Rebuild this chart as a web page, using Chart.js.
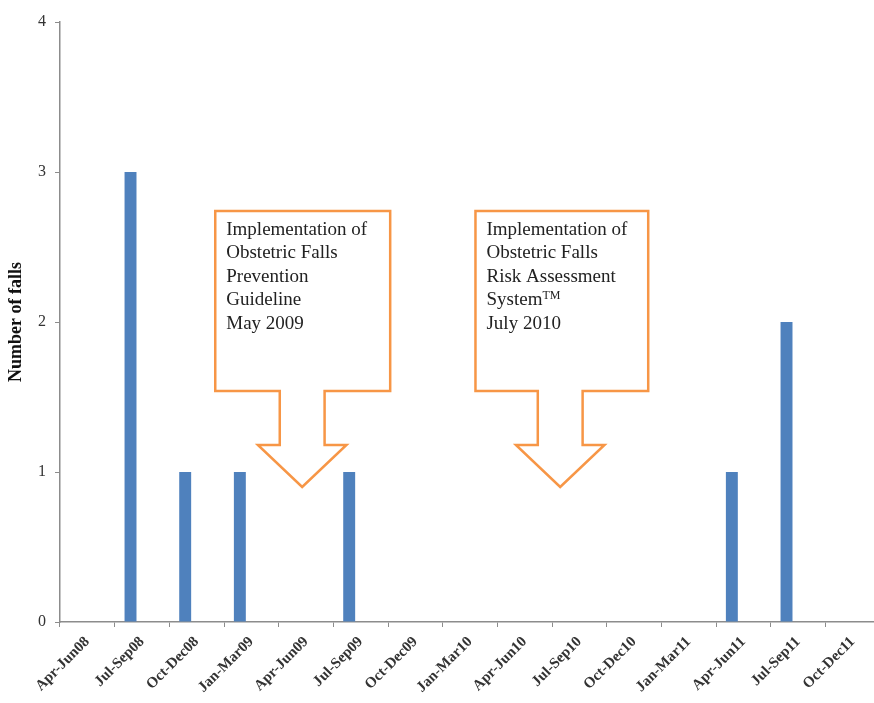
<!DOCTYPE html>
<html>
<head>
<meta charset="utf-8">
<script src="https://cdn.jsdelivr.net/npm/chart.js@4.4.1/dist/chart.umd.min.js"></script>
<style>
  html, body { margin: 0; padding: 0; background: #fff; overflow: hidden; }
  #wrap { width: 880px; height: 703px; }
</style>
</head>
<body>
<div id="wrap"><canvas id="grafica" width="880" height="703"></canvas></div>
<script>
const trimestres = ['Apr-Jun08', 'Jul-Sep08', 'Oct-Dec08', 'Jan-Mar09', 'Apr-Jun09', 'Jul-Sep09',
  'Oct-Dec09', 'Jan-Mar10', 'Apr-Jun10', 'Jul-Sep10', 'Oct-Dec10', 'Jan-Mar11',
  'Apr-Jun11', 'Jul-Sep11', 'Oct-Dec11'];
const caidas = [0, 3, 1, 1, 0, 1, 0, 0, 0, 0, 0, 0, 1, 2, 0];
// the original sheet had an empty second series, which pushes the bars left
const serieVacia = trimestres.map(() => null);

const textoGuia = ['Implementation of', 'Obstetric Falls', 'Prevention', 'Guideline', 'May 2009'];
const textoSistema = ['Implementation of', 'Obstetric Falls', 'Risk Assessment', 'System^TM', 'July 2010'];

const serif = "'Liberation Serif', 'DejaVu Serif', serif";
const naranja = '#f79646';
const gris = '#8c8c8c';

// callouts placed in axis units (x = category index, y = falls)
const flechas = [
  { izq: 2.34, der: 5.54, arriba: 2.74, abajo: 1.54, punta: 3.93, cabeza: 1.18, fin: 0.90, texto: textoGuia },
  { izq: 7.10, der: 10.26, arriba: 2.74, abajo: 1.54, punta: 8.65, cabeza: 1.18, fin: 0.90, texto: textoSistema }
];

const pluginFlechas = {
  id: 'flechas',
  afterDatasetsDraw(chart) {
    const { ctx, scales: { x, y } } = chart;
    const p0 = x.getPixelForValue(0);
    const paso = x.getPixelForValue(1) - p0;
    const px = v => p0 + v * paso;

    flechas.forEach(f => {
      const L = px(f.izq), R = px(f.der), C = px(f.punta);
      const T = y.getPixelForValue(f.arriba), B = y.getPixelForValue(f.abajo);
      const HT = y.getPixelForValue(f.cabeza), TY = y.getPixelForValue(f.fin);
      const sw = paso * 0.41, hw = paso * 0.81;

      ctx.save();
      ctx.beginPath();
      ctx.moveTo(L, T);
      ctx.lineTo(R, T);
      ctx.lineTo(R, B);
      ctx.lineTo(C + sw, B);
      ctx.lineTo(C + sw, HT);
      ctx.lineTo(C + hw, HT);
      ctx.lineTo(C, TY);
      ctx.lineTo(C - hw, HT);
      ctx.lineTo(C - sw, HT);
      ctx.lineTo(C - sw, B);
      ctx.lineTo(L, B);
      ctx.closePath();
      ctx.fillStyle = '#fff';
      ctx.fill();
      ctx.lineWidth = 2.5;
      ctx.strokeStyle = naranja;
      ctx.lineJoin = 'miter';
      ctx.stroke();

      ctx.fillStyle = '#222';
      ctx.textBaseline = 'middle';
      ctx.textAlign = 'left';
      f.texto.forEach((linea, i) => {
        const ty = T + 19 + i * 23.5;
        const partes = linea.split('^');
        ctx.font = '19px ' + serif;
        ctx.fillText(partes[0], L + 11, ty);
        if (partes[1]) {
          const w = ctx.measureText(partes[0]).width;
          ctx.font = '12px ' + serif;
          ctx.fillText(partes[1], L + 11 + w, ty - 5);
        }
      });
      ctx.restore();
    });
  }
};

const ctx = document.getElementById('grafica').getContext('2d');
const chart = new Chart(ctx, {
  type: 'bar',
  data: {
    labels: trimestres,
    datasets: [
      {
        label: 'Number of falls',
        data: caidas,
        backgroundColor: '#4f81bd',
        categoryPercentage: 0.84,
        barPercentage: 0.52
      },
      {
        label: '',
        data: serieVacia,
        backgroundColor: 'rgba(0,0,0,0)',
        categoryPercentage: 0.84,
        barPercentage: 0.52
      }
    ]
  },
  options: {
    responsive: false,
    animation: false,
    layout: { padding: { top: 22, right: 0, left: 0, bottom: 0 } },
    plugins: {
      legend: { display: false },
      tooltip: { enabled: false }
    },
    scales: {
      x: {
        offset: true,
        grid: {
          offset: true,
          drawOnChartArea: false,
          drawTicks: true,
          tickLength: 5,
          color: gris
        },
        border: { color: gris, width: 1.5 },
        ticks: {
          autoSkip: false,
          maxRotation: 45,
          minRotation: 45,
          padding: 6,
          color: '#333',
          font: { family: serif, size: 15, weight: 'bold' }
        },
        afterFit(scale) { scale.height = 81; }
      },
      y: {
        min: 0,
        max: 4,
        grid: {
          drawOnChartArea: false,
          tickLength: 5,
          color: gris
        },
        border: { color: gris, width: 1.5 },
        ticks: {
          stepSize: 1,
          padding: 9,
          color: '#333',
          font: { family: serif, size: 16 }
        },
        title: {
          display: true,
          text: 'Number of falls',
          color: '#111',
          padding: { top: 6, bottom: 0 },
          font: { family: serif, size: 18, weight: 'bold' }
        },
        afterFit(scale) { scale.width = 60; }
      }
    }
  },
  plugins: [pluginFlechas]
});
</script>
</body>
</html>
